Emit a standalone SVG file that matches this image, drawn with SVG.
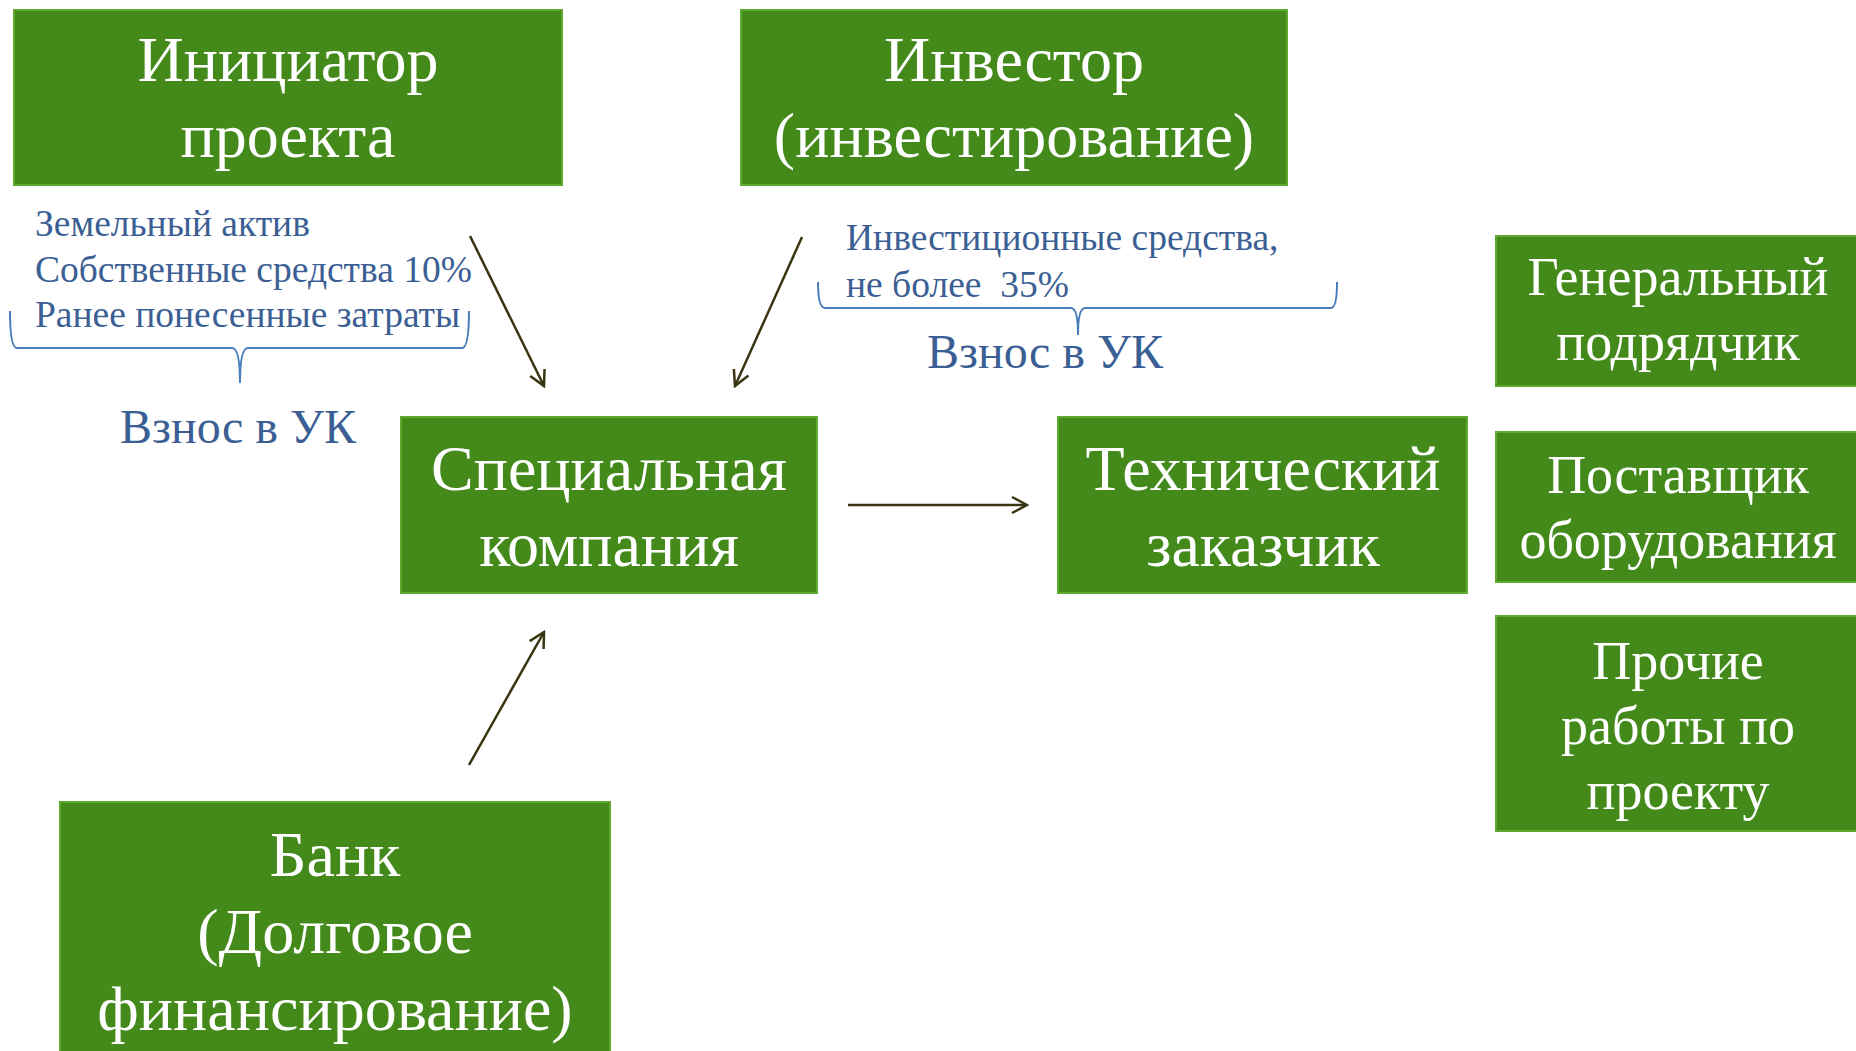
<svg xmlns="http://www.w3.org/2000/svg" width="1856" height="1051" viewBox="0 0 1856 1051">
<style>
.box{fill:#438a1b;stroke:#5eaa2e;stroke-width:2}
.nt{fill:#ffffff;font-family:"Liberation Serif","Times New Roman",serif;text-anchor:middle}
.big{font-size:64px}
.mid{font-size:54px}
.note{fill:#3b5f94;font-family:"Liberation Serif","Times New Roman",serif}
.sm{font-size:37.5px}
.brace{fill:none;stroke:#4a7ebb;stroke-width:2}
.conn{stroke:#3a3510;stroke-width:2.5;fill:none;marker-end:url(#arr)}
</style>
<defs>
<marker id="arr" viewBox="0 0 20 20" refX="18" refY="10" markerWidth="20" markerHeight="20" markerUnits="userSpaceOnUse" orient="auto">
<path d="M3,2 L18,10 L3,18" fill="none" stroke="#3a3510" stroke-width="2.5"/>
</marker>
</defs>
<rect width="1856" height="1051" fill="#ffffff"/>

<g id="initiator">
<rect class="box" x="14" y="10" width="548" height="175"/>
<text class="nt big" x="288" y="81">Инициатор</text>
<text class="nt big" x="288" y="157">проекта</text>
</g>

<g id="investor">
<rect class="box" x="741" y="10" width="546" height="175"/>
<text class="nt big" x="1014" y="81">Инвестор</text>
<text class="nt big" x="1014" y="157">(инвестирование)</text>
</g>

<g id="special">
<rect class="box" x="401" y="417" width="416" height="176"/>
<text class="nt big" x="609" y="490">Специальная</text>
<text class="nt big" x="609" y="566">компания</text>
</g>

<g id="tech">
<rect class="box" x="1058" y="417" width="409" height="176"/>
<text class="nt big" x="1263" y="490">Технический</text>
<text class="nt big" x="1263" y="566">заказчик</text>
</g>

<g id="general">
<rect class="box" x="1496" y="236" width="362" height="150"/>
<text class="nt mid" x="1678" y="295">Генеральный</text>
<text class="nt mid" x="1678" y="360">подрядчик</text>
</g>

<g id="supplier">
<rect class="box" x="1496" y="432" width="362" height="150"/>
<text class="nt mid" x="1678" y="493">Поставщик</text>
<text class="nt mid" x="1678" y="558">оборудования</text>
</g>

<g id="other">
<rect class="box" x="1496" y="616" width="362" height="215"/>
<text class="nt mid" x="1678" y="679">Прочие</text>
<text class="nt mid" x="1678" y="744">работы по</text>
<text class="nt mid" x="1678" y="809">проекту</text>
</g>

<g id="bank">
<rect class="box" x="60" y="802" width="550" height="252"/>
<text class="nt big" x="335" y="876">Банк</text>
<text class="nt big" x="335" y="953">(Долговое</text>
<text class="nt big" x="335" y="1030">финансирование)</text>
</g>

<g id="initiator-note">
<text class="note sm" x="35" y="236">Земельный актив</text>
<text class="note sm" x="35" y="282">Собственные средства 10%</text>
<text class="note sm" x="35" y="327">Ранее понесенные затраты</text>
<path class="brace" d="M10,311 Q10,348 17,348 L232,348 Q240,348 240,383 Q240,348 248,348 L462,348 Q469,348 469,311"/>
<text class="note" x="238" y="443" font-size="48" text-anchor="middle">Взнос в УК</text>
</g>

<g id="investor-note">
<text class="note sm" x="846" y="250">Инвестиционные средства,</text>
<text class="note sm" x="846" y="297" xml:space="preserve">не более  35%</text>
<path class="brace" d="M818,282 Q818,308 825,308 L1071,308 Q1078,308 1078,335 Q1078,308 1085,308 L1331,308 Q1337,308 1337,282"/>
<text class="note" x="1045" y="368" font-size="48" text-anchor="middle">Взнос в УК</text>
</g>

<g id="connectors">
<line class="conn" x1="470" y1="236" x2="544" y2="386"/>
<line class="conn" x1="802" y1="237" x2="735" y2="386"/>
<line class="conn" x1="469" y1="765" x2="544" y2="632"/>
<line class="conn" x1="848" y1="505" x2="1027" y2="505"/>
</g>
</svg>
